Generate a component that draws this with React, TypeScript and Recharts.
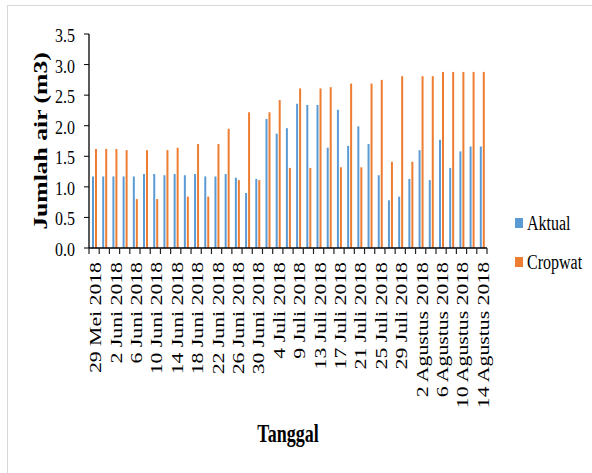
import React from 'react';
import { BarChart, Bar, XAxis, YAxis, Legend, Label } from 'recharts';

// Irrigation water use per observation date (m3)
const dates = [
  '29 Mei 2018', '31 Mei 2018', '2 Juni 2018', '4 Juni 2018', '6 Juni 2018',
  '8 Juni 2018', '10 Juni 2018', '12 Juni 2018', '14 Juni 2018', '16 Juni 2018',
  '18 Juni 2018', '20 Juni 2018', '22 Juni 2018', '24 Juni 2018', '26 Juni 2018',
  '28 Juni 2018', '30 Juni 2018', '2 Juli 2018', '4 Juli 2018', '7 Juli 2018',
  '9 Juli 2018', '11 Juli 2018', '13 Juli 2018', '15 Juli 2018', '17 Juli 2018',
  '19 Juli 2018', '21 Juli 2018', '23 Juli 2018', '25 Juli 2018', '27 Juli 2018',
  '29 Juli 2018', '31 Juli 2018', '2 Agustus 2018', '4 Agustus 2018', '6 Agustus 2018',
  '8 Agustus 2018', '10 Agustus 2018', '12 Agustus 2018', '14 Agustus 2018',
];

const aktual = [
  1.17, 1.17, 1.17, 1.17, 1.17, 1.21, 1.21, 1.19, 1.21, 1.19,
  1.21, 1.17, 1.17, 1.21, 1.15, 0.90, 1.13, 2.11, 1.87, 1.96,
  2.36, 2.34, 2.34, 1.64, 2.26, 1.67, 1.99, 1.70, 1.19, 0.78,
  0.84, 1.13, 1.60, 1.11, 1.77, 1.31, 1.58, 1.66, 1.66,
];

const cropwat = [
  1.62, 1.62, 1.62, 1.60, 0.80, 1.60, 0.80, 1.60, 1.64, 0.84,
  1.70, 0.84, 1.70, 1.95, 1.11, 2.22, 1.11, 2.22, 2.42, 1.31,
  2.61, 1.31, 2.61, 2.63, 1.32, 2.69, 1.32, 2.69, 2.75, 1.41,
  2.81, 1.41, 2.81, 2.81, 2.88, 2.88, 2.88, 2.88, 2.88,
];

const yTicks = [0, 0.5, 1.0, 1.5, 2.0, 2.5, 3.0, 3.5];

const data = dates.map((tanggal, i) => ({
  tanggal,
  aktual: aktual[i],
  cropwat: cropwat[i],
}));

const W = 592;
const H = 473;
const MARGIN = { top: 34, right: 105, bottom: 0, left: 0 };
const Y_AXIS_W = 89;
const X_AXIS_H = 225;
const X_TICK_SIZE = 6;
const X_TICK_MARGIN = 8;
const BAND = (W - MARGIN.left - MARGIN.right - Y_AXIS_W) / dates.length;

const FONT = '"Liberation Serif", "Times New Roman", serif';
const BLUE = '#5B9BD5';
const ORANGE = '#ED7D31';

// Category tick: a tick mark on each band boundary, a date label on every other band
function DateTick(props: any) {
  const { x, y, payload, index } = props;
  const axisY = y - X_TICK_SIZE - X_TICK_MARGIN;
  const left = x - BAND / 2;
  const right = x + BAND / 2;
  return (
    <g>
      <line x1={left} x2={left} y1={axisY} y2={axisY + X_TICK_SIZE} stroke="#222" strokeWidth={1.2} />
      {index === dates.length - 1 && (
        <line x1={right} x2={right} y1={axisY} y2={axisY + X_TICK_SIZE} stroke="#222" strokeWidth={1.2} />
      )}
      {index % 2 === 0 && (
        <g transform={`translate(${x + 7},${y})`}>
          <text
            transform="scale(1,1.36) rotate(-90)"
            textAnchor="end"
            fontFamily={FONT}
            fontSize={16}
            fill="#000"
          >
            {payload.value}
          </text>
        </g>
      )}
    </g>
  );
}

function ValueTick(props: any) {
  const { x, y, payload } = props;
  return (
    <g transform={`translate(${x + 1},${y + 8})`}>
      <text transform="scale(1,1.12)" textAnchor="end" fontFamily={FONT} fontSize={16} fill="#000">
        {Number(payload.value).toFixed(1)}
      </text>
    </g>
  );
}

function YTitle(props: any) {
  const vb = props.viewBox || { x: 0, y: MARGIN.top, width: Y_AXIS_W, height: H - X_AXIS_H - MARGIN.top };
  const cx = vb.x + 47;
  const cy = vb.y + vb.height / 2;
  return (
    <g transform={`translate(${cx},${cy})`}>
      <text
        transform="scale(1,1.35) rotate(-90)"
        textAnchor="middle"
        fontFamily={FONT}
        fontWeight="bold"
        fontSize={19}
        fill="#000"
      >
        Jumlah air (m3)
      </text>
    </g>
  );
}

function XTitle(props: any) {
  const vb = props.viewBox || { x: MARGIN.left + Y_AXIS_W, y: H - X_AXIS_H, width: 398, height: X_AXIS_H };
  const cx = vb.x + vb.width / 2;
  const cy = vb.y + 194;
  return (
    <g transform={`translate(${cx},${cy})`}>
      <text transform="scale(1,1.4)" textAnchor="middle" fontFamily={FONT} fontWeight="bold" fontSize={18} fill="#000">
        Tanggal
      </text>
    </g>
  );
}

function LegendContent(props: any) {
  const items = props.payload || [];
  return (
    <div>
      {items.map((entry: any) => (
        <div key={entry.value} style={{ display: 'flex', alignItems: 'center', height: 39 }}>
          <span style={{ display: 'inline-block', width: 8, height: 10, background: entry.color, marginRight: 4 }} />
          <span
            style={{
              fontFamily: FONT,
              fontSize: 16,
              color: '#000',
              display: 'inline-block',
              transform: 'scaleY(1.35)',
              lineHeight: '16px',
            }}
          >
            {entry.value}
          </span>
        </div>
      ))}
    </div>
  );
}

export default function App() {
  return (
    <div style={{ position: 'absolute', left: 0, top: 0, width: W, height: H, overflow: 'hidden', background: '#fff' }}>
      <div
        style={{
          position: 'absolute',
          left: 7,
          top: 5,
          width: 600,
          height: 480,
          border: '1px solid #D9D9D9',
          boxSizing: 'border-box',
        }}
      />
      <div style={{ position: 'absolute', left: 0, top: 0 }}>
        <BarChart width={W} height={H} data={data} margin={MARGIN} barGap={1}>
          <XAxis
            dataKey="tanggal"
            interval={0}
            height={X_AXIS_H}
            tickSize={X_TICK_SIZE}
            tickMargin={X_TICK_MARGIN}
            tickLine={false}
            axisLine={{ stroke: '#000', strokeWidth: 1.4 }}
            tick={DateTick}
          >
            <Label content={XTitle} />
          </XAxis>
          <YAxis
            width={Y_AXIS_W}
            domain={[0, 3.5]}
            ticks={yTicks}
            interval={0}
            tickSize={5}
            tickMargin={10}
            tickLine={{ stroke: '#000' }}
            axisLine={{ stroke: '#000', strokeWidth: 1.3 }}
            tick={ValueTick}
          >
            <Label content={YTitle} />
          </YAxis>
          <Legend
            layout="vertical"
            align="center"
            verticalAlign="middle"
            content={LegendContent}
            wrapperStyle={{ left: 515, top: 203, width: 'auto' }}
          />
          <Bar dataKey="aktual" name="Aktual" fill={BLUE} barSize={2} isAnimationActive={false} />
          <Bar dataKey="cropwat" name="Cropwat" fill={ORANGE} barSize={2} isAnimationActive={false} />
        </BarChart>
      </div>
    </div>
  );
}
